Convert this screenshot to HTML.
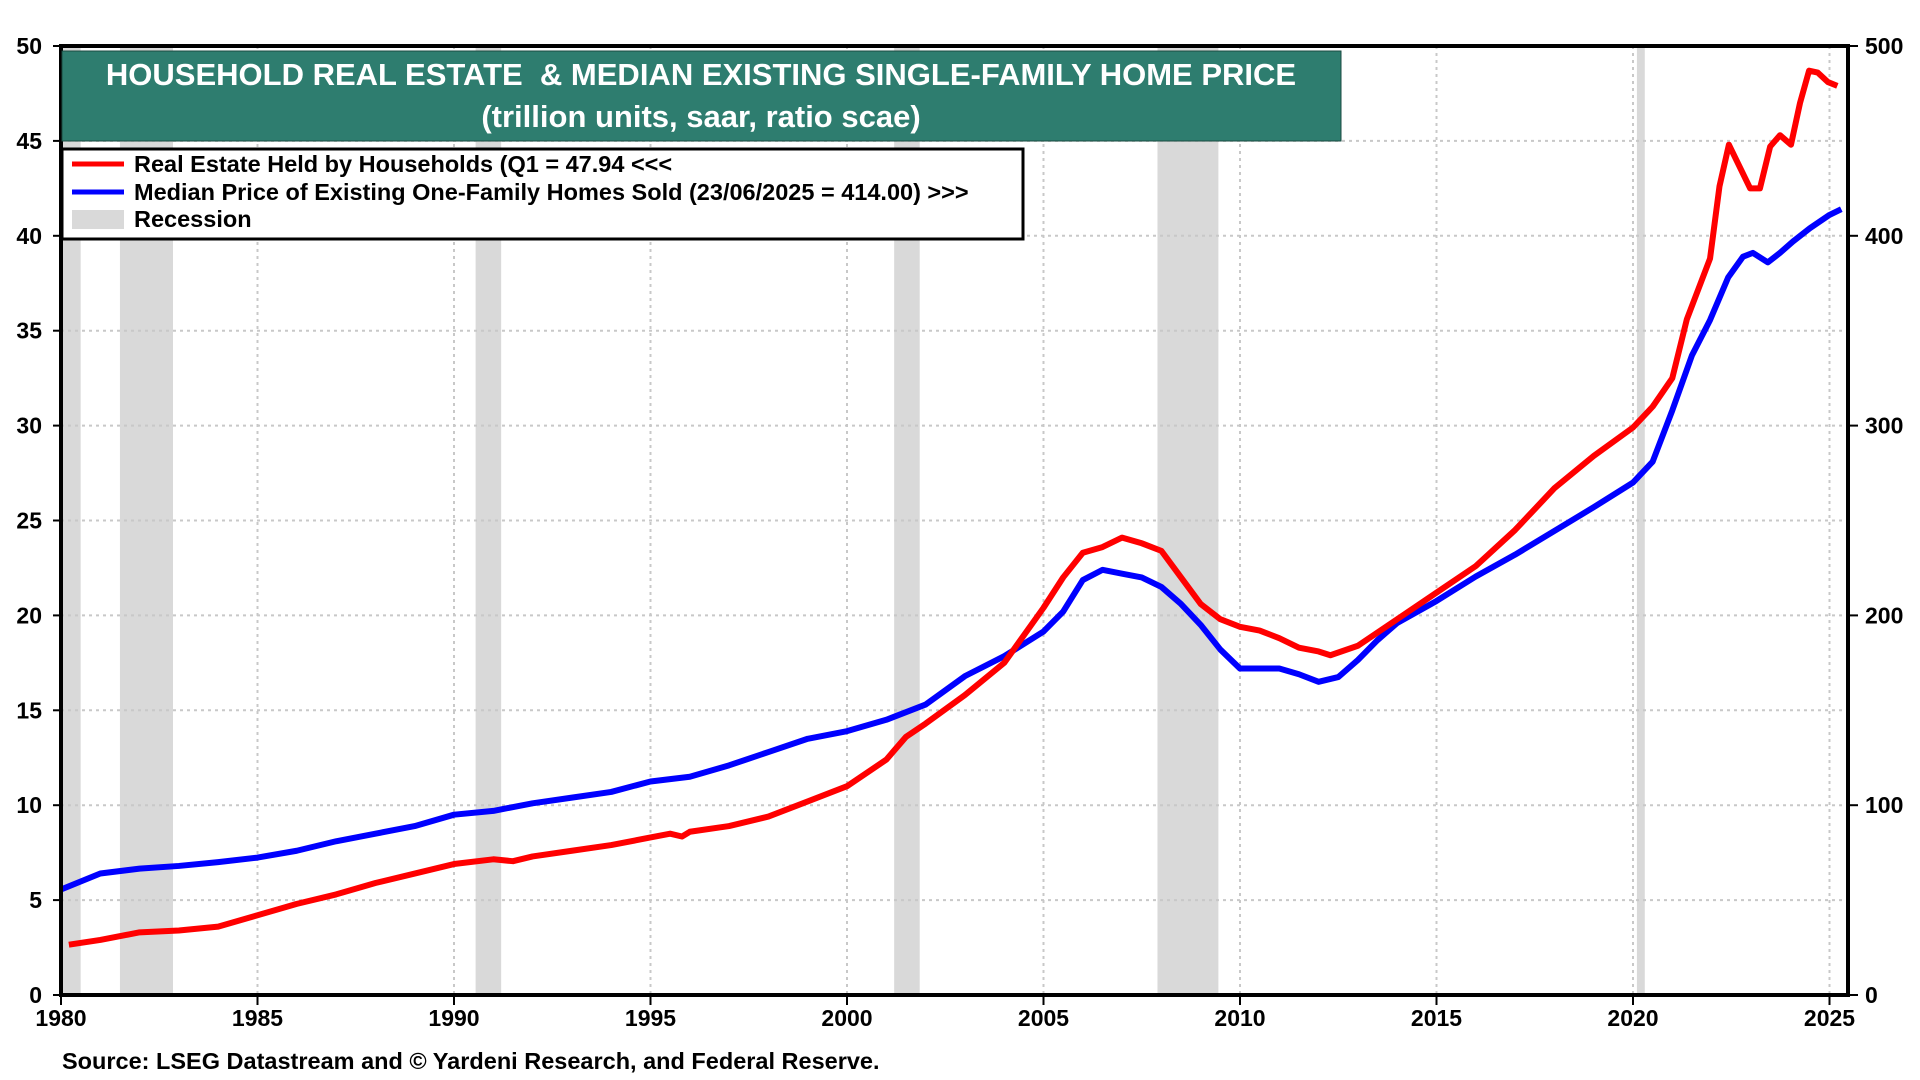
<!DOCTYPE html>
<html><head><meta charset="utf-8"><style>
html,body{margin:0;padding:0;background:#fff;}
svg{display:block;font-family:"Liberation Sans",Arial,sans-serif;}
</style></head><body>
<svg id="chart" width="1920" height="1080" viewBox="0 0 1920 1080">
<g id="recG"></g>
<g id="gridG"></g>
<g id="seriesG"></g>
<g id="axisG"></g>
<g>
<rect x="62" y="51" width="1279" height="90" fill="#2e7d6f" stroke="#1a4a40" stroke-width="1"/>
<text x="701" y="85" text-anchor="middle" fill="#fff" font-weight="bold" font-size="31">HOUSEHOLD REAL ESTATE &#160;&amp; MEDIAN EXISTING SINGLE-FAMILY HOME PRICE</text>
<text x="701" y="127" text-anchor="middle" fill="#fff" font-weight="bold" font-size="31">(trillion units, saar, ratio scae)</text>
</g>
<g>
<rect x="62" y="149" width="961" height="90" fill="#fff" stroke="#000" stroke-width="3"/>
<g>
<line x1="72" y1="164" x2="124" y2="164" stroke="#ff0000" stroke-width="5"/>
<text x="134" y="172" font-size="23.5" font-weight="bold">Real Estate Held by Households (Q1 = 47.94 &lt;&lt;&lt;</text></g>
<g>
<line x1="72" y1="192" x2="124" y2="192" stroke="#0000ff" stroke-width="5"/>
<text x="134" y="200" font-size="23.5" font-weight="bold">Median Price of Existing One-Family Homes Sold (23/06/2025 = 414.00) &gt;&gt;&gt;</text></g>
<g>
<rect x="72" y="210" width="52" height="19" fill="#d9d9d9"/>
<text x="134" y="227" font-size="23.5" font-weight="bold">Recession</text></g>
</g>
<text x="62" y="1069" font-size="23.5" font-weight="bold">Source: LSEG Datastream and © Yardeni Research, and Federal Reserve.</text>
</svg>
<script>
const recStart=[1980.0,1981.5,1990.55,2001.2,2007.9,2020.1];
const recEnd=[1980.5,1982.85,1991.2,2001.85,2009.45,2020.3];
const redYears=[1980.2,1981,1982,1983,1984,1985,1986,1987,1988,1989,1990,1991,1991.5,1992,1993,1994,1995,1995.5,1995.8,1996,1997,1998,1999,2000,2001,2001.5,2002,2003,2004,2005,2005.5,2006,2006.5,2007,2007.5,2008,2008.5,2009,2009.5,2010,2010.5,2011,2011.5,2012,2012.3,2013,2014,2015,2016,2017,2018,2019,2020,2020.5,2021,2021.37,2021.96,2022.2,2022.44,2022.98,2023.23,2023.49,2023.74,2024.02,2024.25,2024.48,2024.7,2024.96,2025.2];
const redVals=[2.65,2.9,3.3,3.4,3.6,4.2,4.8,5.3,5.9,6.4,6.9,7.15,7.05,7.3,7.6,7.9,8.3,8.5,8.35,8.6,8.9,9.4,10.2,11.0,12.4,13.6,14.3,15.8,17.5,20.4,22.0,23.3,23.6,24.1,23.8,23.4,22.0,20.6,19.8,19.4,19.2,18.8,18.3,18.1,17.9,18.4,19.8,21.2,22.6,24.5,26.7,28.4,29.9,31.0,32.5,35.6,38.8,42.6,44.8,42.5,42.5,44.7,45.3,44.8,47.0,48.7,48.6,48.1,47.9];
const blueYears=[1980,1981,1982,1983,1984,1985,1986,1987,1988,1989,1990,1991,1992,1993,1994,1995,1996,1997,1998,1999,2000,2001,2002,2003,2004,2005,2005.5,2006,2006.5,2007,2007.5,2008,2008.5,2009,2009.5,2010,2010.5,2011,2011.5,2012,2012.5,2013,2013.5,2014,2015,2016,2017,2018,2019,2020,2020.5,2021,2021.5,2021.96,2022.42,2022.8,2023.05,2023.43,2023.74,2024.07,2024.5,2025.0,2025.3];
const blueVals=[55.6,64,66.6,68,70,72.4,76,81,85,89,95,97,101,104,107,112.5,115,121,128,135,139,145,153,168,178.5,191.5,202,218.6,224,222,220,215,206,195,182,172,172,172,169,165,167.5,176.5,187,196,207.6,220.5,232,244.5,257,270,281,308,337,355.6,378,389,391,386,391,397,404,411,414];
const leftTicks=[0,5,10,15,20,25,30,35,40,45,50];
const rightTicks=[0,100,200,300,400,500];
const xTicks=[1980,1985,1990,1995,2000,2005,2010,2015,2020,2025];

const X0=61,X1=1848,Y0=995,Y1=46;
const xs=y=>X0+(y-1980)*39.3;
const yl=v=>Y0-(v/50)*(Y0-Y1);
const yr=v=>Y0-(v/500)*(Y0-Y1);
const NS='http://www.w3.org/2000/svg';
function mk(tag,attrs,parent){const e=document.createElementNS(NS,tag);for(const k in attrs)e.setAttribute(k,attrs[k]);parent.appendChild(e);return e;}
const recG=document.getElementById('recG'),gridG=document.getElementById('gridG'),seriesG=document.getElementById('seriesG'),axisG=document.getElementById('axisG');
recStart.forEach((s,i)=>{
 const r=mk('rect',{x:xs(s),y:Y1,width:xs(recEnd[i])-xs(s),height:Y0-Y1,fill:'#d9d9d9'},recG);
 
 
});
leftTicks.forEach(v=>{
 if(v>0&&v<50){const l=mk('line',{x1:X0,x2:X1,y1:yl(v),y2:yl(v),stroke:'#c8c8c8','stroke-width':2,'stroke-dasharray':'3,4'},gridG);
 
 }
 mk('line',{x1:X0-8,x2:X0,y1:yl(v),y2:yl(v),stroke:'#000','stroke-width':2},axisG);
 const t=mk('text',{x:X0-19,y:yl(v)+8,'text-anchor':'end','font-size':23,'font-weight':'bold'},axisG);
 t.textContent=v;
 
 
});
rightTicks.forEach(v=>{
 mk('line',{x1:X1,x2:X1+10,y1:yr(v),y2:yr(v),stroke:'#000','stroke-width':2},axisG);
 const t=mk('text',{x:X1+17,y:yr(v)+8,'font-size':23,'font-weight':'bold'},axisG);
 t.textContent=v;
 
 
});
xTicks.forEach(v=>{
 if(v>1980){const l=mk('line',{x1:xs(v),x2:xs(v),y1:Y1,y2:Y0,stroke:'#c8c8c8','stroke-width':2,'stroke-dasharray':'3,4'},gridG);
 
 }
 mk('line',{x1:xs(v),x2:xs(v),y1:Y0,y2:Y0+10,stroke:'#000','stroke-width':2},axisG);
 const t=mk('text',{x:xs(v),y:Y0+31,'text-anchor':'middle','font-size':23,'font-weight':'bold'},axisG);
 t.textContent=v;
 
 
});
const blue=mk('polyline',{points:blueYears.map((y,i)=>xs(y)+','+yr(blueVals[i])).join(' '),fill:'none',stroke:'#0000ff','stroke-width':6,'stroke-linejoin':'round'},seriesG);


const red=mk('polyline',{points:redYears.map((y,i)=>xs(y)+','+yl(redVals[i])).join(' '),fill:'none',stroke:'#ff0000','stroke-width':6,'stroke-linejoin':'round'},seriesG);


const frame=mk('path',{d:`M${X0},${Y1} V${Y0} H${X1} V${Y1} Z`,fill:'none',stroke:'#000','stroke-width':4},axisG);


</script>
</body></html>
